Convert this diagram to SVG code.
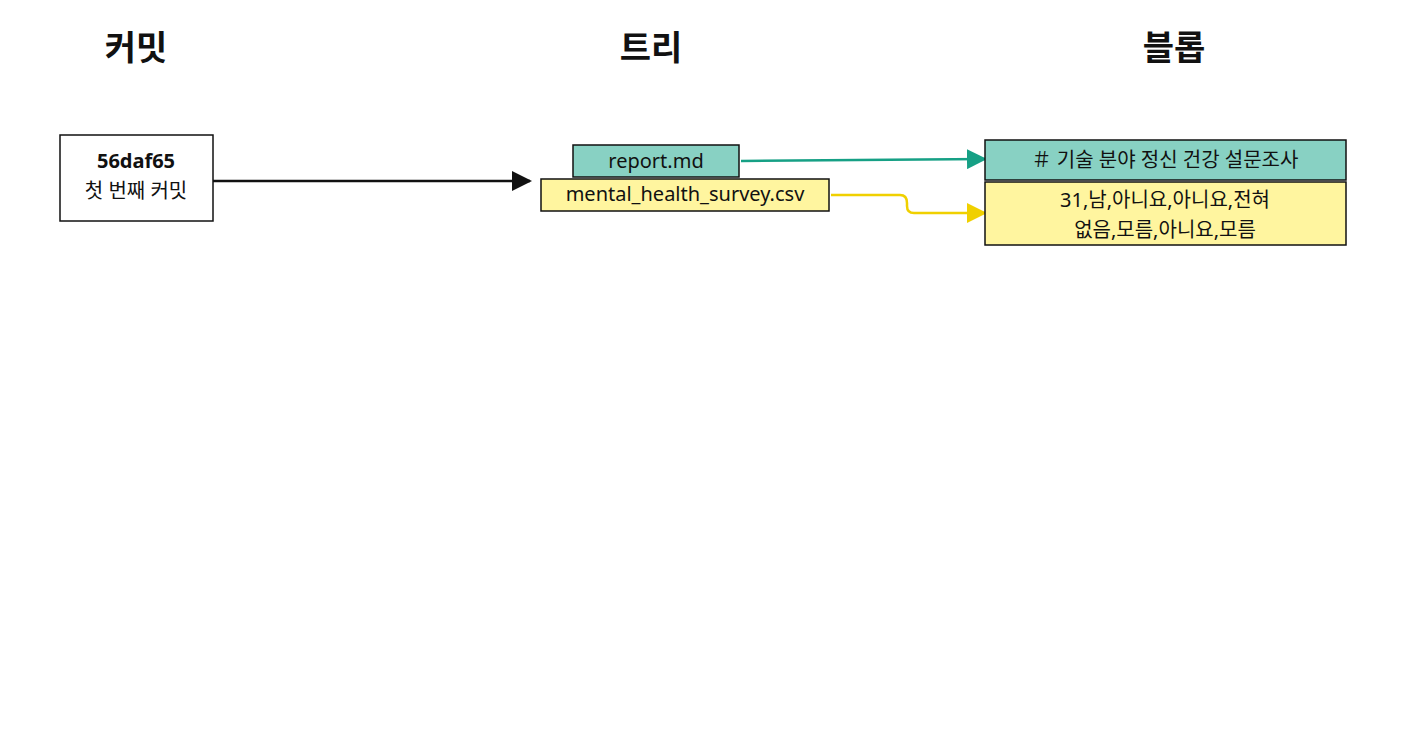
<svg xmlns="http://www.w3.org/2000/svg" width="1424" height="751" viewBox="0 0 1424 751">
<style>
text{font-family:"Noto Sans","Noto Sans CJK KR",sans-serif;fill:#111;text-anchor:middle}
.h{font-size:34px;font-weight:bold}
.t{font-size:20px}
.box{stroke:#111;stroke-width:1.5}
</style>
<defs>
<marker id="ak" viewBox="0 0 10 10" refX="9" refY="5" markerWidth="20" markerHeight="20" markerUnits="userSpaceOnUse" orient="auto"><path d="M0,0L10,5L0,10z" fill="#111"/></marker>
<marker id="ag" viewBox="0 0 10 10" refX="9" refY="5" markerWidth="20" markerHeight="20" markerUnits="userSpaceOnUse" orient="auto"><path d="M0,0L10,5L0,10z" fill="#16a085"/></marker>
<marker id="ay" viewBox="0 0 10 10" refX="9" refY="5" markerWidth="20" markerHeight="20" markerUnits="userSpaceOnUse" orient="auto"><path d="M0,0L10,5L0,10z" fill="#f0d000"/></marker>
</defs>
<rect width="1424" height="751" fill="#fff"/>
<text class="h" x="136" y="60">커밋</text>
<text class="h" x="651" y="60">트리</text>
<text class="h" x="1174" y="60">블롭</text>
<g id="connectors" fill="none" stroke-width="2.5">
<path d="M213,181H530" stroke="#111" marker-end="url(#ak)"/>
<path d="M741,161L985,159" stroke="#16a085" marker-end="url(#ag)"/>
<path d="M831,195H900Q907,195 907,203V206Q907,213 914,213H985" stroke="#f0d000" marker-end="url(#ay)"/>
</g>
<g id="commit">
<rect class="box" x="60" y="135" width="153" height="86" fill="#fff"/>
<text class="t" x="136" y="168" font-weight="bold">56daf65</text>
<text class="t" x="136" y="198">첫 번째 커밋</text>
</g>
<g id="report">
<rect class="box" x="573" y="145" width="166" height="32" fill="#88d1c3"/>
<text class="t" x="656" y="168">report.md</text>
</g>
<g id="csv">
<rect class="box" x="541" y="179" width="288" height="32" fill="#fff59f"/>
<text class="t" x="685" y="201">mental_health_survey.csv</text>
</g>
<g id="blob-md">
<rect class="box" x="985" y="140" width="361" height="40" fill="#88d1c3"/>
<text class="t" x="1165" y="167">＃ 기술 분야 정신 건강 설문조사</text>
</g>
<g id="blob-csv">
<rect class="box" x="985" y="182" width="361" height="63" fill="#fff59f"/>
<text class="t" x="1165" y="207">31,남,아니요,아니요,전혀</text>
<text class="t" x="1165" y="237">없음,모름,아니요,모름</text>
</g>
</svg>
